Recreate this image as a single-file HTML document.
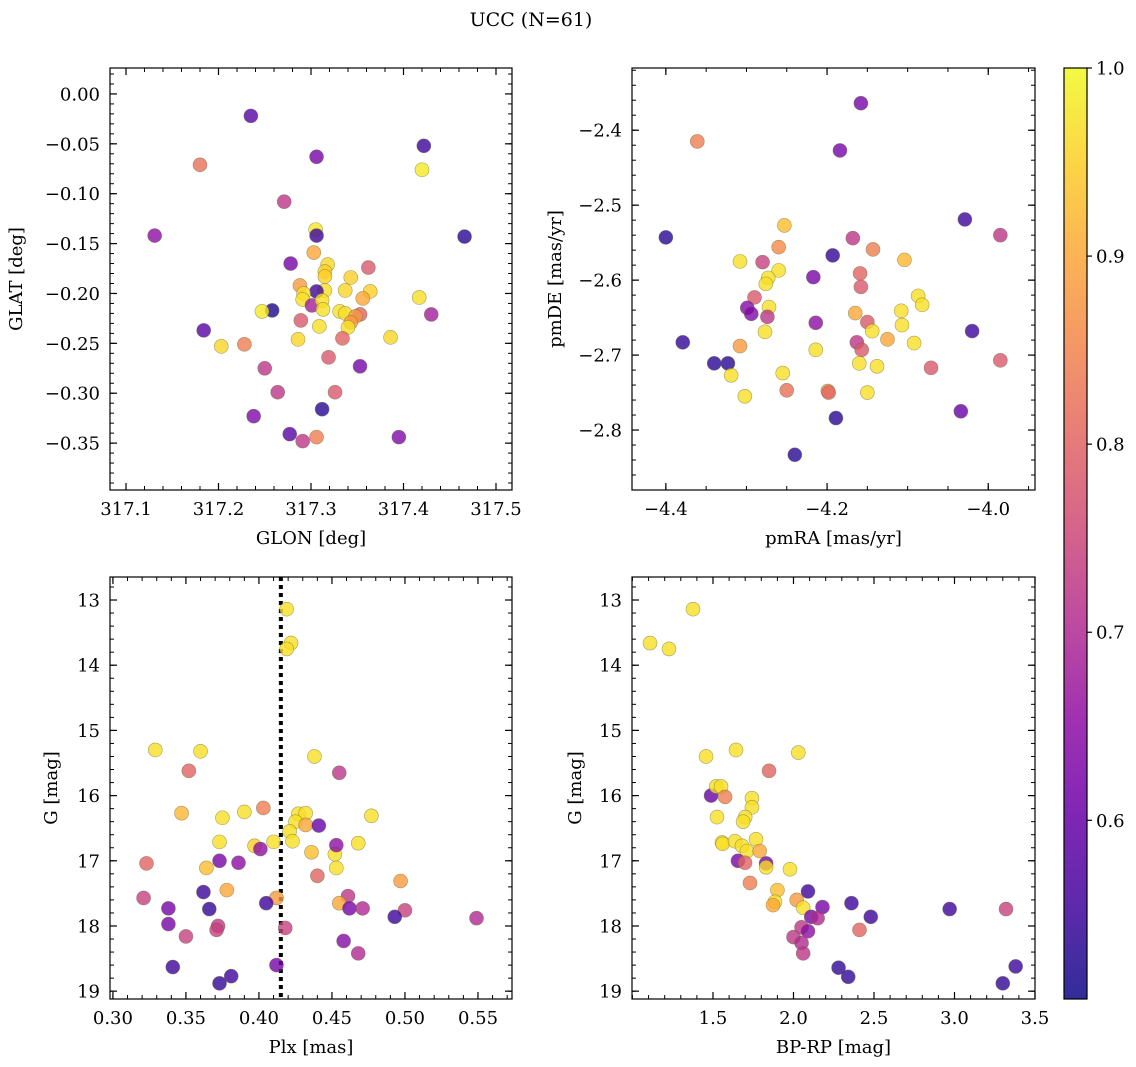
<!DOCTYPE html>
<html><head><meta charset="utf-8"><style>
body{margin:0;background:#fff}
svg{display:block;font-family:"DejaVu Serif","Liberation Serif",serif}
</style></head><body>
<svg id="fig" width="1136" height="1067" viewBox="0 0 1136 1067" xmlns="http://www.w3.org/2000/svg">
<text x="531" y="26" font-size="19" text-anchor="middle">UCC (N=61)</text>
<defs><linearGradient id="cb" x1="0" y1="1" x2="0" y2="0"></linearGradient></defs>
</svg>
<script>
// Panel 1: GLON vs GLAT
const glon=[317.235,317.180,317.306,317.422,317.420,317.271,317.131,317.466,317.305,317.306,317.303,317.318,317.278,317.362,317.315,317.315,317.343,317.288,317.315,317.306,317.364,317.337,317.292,317.291,317.356,317.417,317.301,317.312,317.313,317.331,317.337,317.353,317.348,317.430,317.258,317.247,317.289,317.343,317.309,317.340,317.184,317.228,317.203,317.386,317.286,317.334,317.319,317.250,317.353,317.264,317.326,317.312,317.238,317.277,317.306,317.291,317.395];
const glat=[-0.022,-0.071,-0.063,-0.052,-0.076,-0.108,-0.142,-0.143,-0.136,-0.142,-0.159,-0.171,-0.170,-0.174,-0.178,-0.183,-0.184,-0.192,-0.197,-0.198,-0.198,-0.197,-0.200,-0.206,-0.205,-0.204,-0.212,-0.207,-0.216,-0.218,-0.220,-0.221,-0.223,-0.221,-0.217,-0.218,-0.227,-0.229,-0.233,-0.234,-0.237,-0.251,-0.253,-0.244,-0.246,-0.245,-0.264,-0.275,-0.273,-0.299,-0.299,-0.316,-0.323,-0.341,-0.344,-0.348,-0.344];
const prob1=[0.58,0.82,0.62,0.55,0.98,0.72,0.65,0.53,0.98,0.55,0.90,0.96,0.62,0.78,0.95,0.95,0.95,0.88,0.97,0.55,0.95,0.96,0.97,0.97,0.90,0.97,0.68,0.97,0.97,0.97,0.97,0.80,0.88,0.68,0.52,0.98,0.78,0.88,0.97,0.97,0.58,0.84,0.96,0.96,0.96,0.80,0.78,0.72,0.62,0.72,0.78,0.53,0.63,0.58,0.84,0.72,0.63];
// Panel 2: pmRA vs pmDE
const pmra=[-4.158,-4.361,-4.184,-4.400,-4.029,-3.985,-4.253,-4.168,-4.143,-4.260,-4.193,-4.308,-4.280,-4.104,-4.159,-4.260,-4.273,-4.217,-4.276,-4.158,-4.290,-4.087,-4.272,-4.082,-4.299,-4.274,-4.294,-4.150,-4.165,-4.214,-4.108,-4.144,-4.277,-4.020,-4.107,-4.125,-4.163,-4.092,-4.379,-4.308,-4.214,-4.157,-4.160,-4.340,-4.323,-3.985,-4.138,-4.255,-4.071,-4.319,-4.250,-4.199,-4.198,-4.150,-4.302,-4.034,-4.189,-4.240];
const pmde=[-2.364,-2.415,-2.427,-2.543,-2.519,-2.540,-2.527,-2.544,-2.559,-2.556,-2.567,-2.575,-2.576,-2.573,-2.591,-2.587,-2.597,-2.596,-2.605,-2.609,-2.623,-2.621,-2.636,-2.633,-2.637,-2.649,-2.645,-2.656,-2.644,-2.657,-2.641,-2.668,-2.669,-2.668,-2.660,-2.679,-2.683,-2.684,-2.683,-2.688,-2.693,-2.693,-2.711,-2.711,-2.711,-2.707,-2.715,-2.724,-2.717,-2.727,-2.747,-2.748,-2.750,-2.750,-2.755,-2.775,-2.784,-2.833];
const prob2=[0.62,0.84,0.62,0.53,0.55,0.72,0.93,0.72,0.84,0.86,0.54,0.97,0.74,0.92,0.80,0.97,0.97,0.62,0.97,0.78,0.78,0.97,0.97,0.97,0.64,0.72,0.63,0.78,0.90,0.65,0.97,0.97,0.97,0.55,0.97,0.90,0.72,0.97,0.54,0.88,0.97,0.78,0.97,0.53,0.53,0.78,0.97,0.97,0.78,0.97,0.82,0.88,0.80,0.97,0.97,0.60,0.53,0.53];
// Panel 3: Plx vs G
const plx=[0.419,0.422,0.419,0.329,0.360,0.438,0.352,0.455,0.347,0.390,0.403,0.427,0.432,0.425,0.421,0.432,0.441,0.477,0.375,0.373,0.410,0.423,0.397,0.401,0.436,0.452,0.453,0.468,0.453,0.364,0.373,0.386,0.323,0.378,0.440,0.362,0.461,0.321,0.497,0.412,0.455,0.405,0.338,0.366,0.462,0.471,0.500,0.493,0.549,0.338,0.372,0.371,0.418,0.350,0.458,0.468,0.341,0.412,0.381,0.373];
const gmag3=[13.14,13.66,13.75,15.30,15.32,15.40,15.62,15.65,16.27,16.25,16.19,16.28,16.27,16.40,16.55,16.45,16.46,16.31,16.34,16.71,16.71,16.70,16.77,16.82,16.87,16.90,17.11,16.73,16.76,17.11,17.00,17.03,17.04,17.45,17.23,17.48,17.54,17.57,17.31,17.57,17.65,17.65,17.73,17.74,17.73,17.73,17.76,17.86,17.88,17.97,18.00,18.06,18.03,18.16,18.23,18.42,18.63,18.60,18.77,18.88];
const prob3=[0.97,0.97,0.97,0.97,0.97,0.97,0.80,0.72,0.92,0.97,0.84,0.97,0.97,0.97,0.97,0.90,0.60,0.97,0.97,0.97,0.97,0.97,0.95,0.65,0.93,0.97,0.97,0.97,0.65,0.93,0.62,0.65,0.80,0.90,0.80,0.55,0.72,0.74,0.88,0.88,0.90,0.55,0.62,0.54,0.62,0.70,0.74,0.55,0.70,0.62,0.72,0.74,0.74,0.74,0.64,0.70,0.55,0.62,0.55,0.54];
// Panel 4: BP-RP vs G
const bprp=[1.376,1.109,1.227,1.457,1.643,2.030,1.848,1.488,1.520,1.550,1.575,1.525,1.742,1.742,1.700,1.687,1.556,1.560,1.637,1.680,1.767,1.711,1.790,1.978,1.830,1.830,1.655,1.699,1.730,1.900,1.885,1.873,2.090,2.020,2.060,2.180,2.360,2.480,2.970,3.320,2.110,2.050,2.090,2.150,2.000,2.410,2.050,2.060,2.280,2.340,3.300,3.380];
const gmag4=[13.14,13.66,13.75,15.40,15.30,15.34,15.62,16.00,15.86,15.86,16.02,16.33,16.04,16.18,16.33,16.40,16.72,16.74,16.70,16.77,16.67,16.85,16.85,17.13,17.04,17.10,17.00,17.03,17.34,17.45,17.63,17.68,17.47,17.60,17.72,17.71,17.65,17.86,17.74,17.74,17.86,18.02,18.08,17.88,18.17,18.06,18.26,18.42,18.64,18.78,18.88,18.62];
const prob4=[0.97,0.97,0.97,0.97,0.97,0.97,0.80,0.60,0.97,0.97,0.84,0.97,0.97,0.97,0.97,0.97,0.97,0.97,0.97,0.97,0.97,0.97,0.90,0.97,0.62,0.97,0.62,0.80,0.84,0.93,0.97,0.90,0.55,0.88,0.97,0.62,0.55,0.55,0.55,0.74,0.62,0.72,0.65,0.70,0.72,0.80,0.70,0.72,0.54,0.54,0.54,0.55];
// Colorbar
const cbTicks=[0.6,0.7,0.8,0.9,1.0];
const vmin=0.505, vmax=1.0;

const NS="http://www.w3.org/2000/svg";
const svg=document.getElementById('fig');
function mk(tag,attrs,parent){const e=document.createElementNS(NS,tag);for(const k in attrs)e.setAttribute(k,attrs[k]);(parent||svg).appendChild(e);return e;}
const plasma=[[13,8,135],[65,4,157],[106,0,168],[143,13,164],[177,42,144],[204,71,120],[225,100,98],[242,132,75],[252,166,54],[252,206,37],[240,249,33]];
function cmap(v){let t=(v-vmin)/(vmax-vmin);t=Math.max(0,Math.min(1,t))*10;const i=Math.min(9,Math.floor(t)),f=t-i;const a=plasma[i],b=plasma[i+1];return 'rgb('+a.map((c,j)=>Math.round(c+(b[j]-c)*f)).join(',')+')';}
function fmt(v,d){const s=Math.abs(v).toFixed(d);return (v<-1e-9?'\u2212':'')+s;}
const FS=18;
const panels=[
 {name:'position',box:[110,68,512,490],xd:[317.0827,317.5173],yd:[0.026,-0.397],xt:[317.1,317.2,317.3,317.4,317.5],xdec:1,xm:0.02,yt:[0,-0.05,-0.1,-0.15,-0.2,-0.25,-0.3,-0.35],ydec:2,ym:0.01,xl:'GLON [deg]',yl:'GLAT [deg]',ylx:22,X:glon,Y:glat,P:prob1},
 {name:'proper-motion',box:[632,68,1035,490],xd:[-4.442,-3.942],yd:[-2.317,-2.88],xt:[-4.4,-4.2,-4.0],xdec:1,xm:0.05,yt:[-2.4,-2.5,-2.6,-2.7,-2.8],ydec:1,ym:0.02,xl:'pmRA [mas/yr]',yl:'pmDE [mas/yr]',ylx:561,X:pmra,Y:pmde,P:prob2},
 {name:'parallax-magnitude',box:[110,577,512,999],xd:[0.298,0.5733],yd:[12.647,19.12],xt:[0.30,0.35,0.40,0.45,0.50,0.55],xdec:2,xm:0.01,yt:[13,14,15,16,17,18,19],ydec:0,ym:0.2,xl:'Plx [mas]',yl:'G [mag]',ylx:57,X:plx,Y:gmag3,P:prob3,vline:0.415},
 {name:'color-magnitude',box:[632,577,1035,999],xd:[0.997,3.5],yd:[12.647,19.12],xt:[1.5,2.0,2.5,3.0,3.5],xdec:1,xm:0.1,yt:[13,14,15,16,17,18,19],ydec:0,ym:0.2,xl:'BP-RP [mag]',yl:'G [mag]',ylx:581,X:bprp,Y:gmag4,P:prob4}
];
panels.forEach(p=>{
 const [x0,y0,x1,y1]=p.box;
 const sx=v=>x0+(v-p.xd[0])/(p.xd[1]-p.xd[0])*(x1-x0);
 const sy=v=>y0+(v-p.yd[0])/(p.yd[1]-p.yd[0])*(y1-y0);
 const g=mk('g',{});
 
 
 const cp='clip-'+p.name;
 const c=mk('clipPath',{id:cp},g);mk('rect',{x:x0,y:y0,width:x1-x0,height:y1-y0},c);
 const pts=mk('g',{'clip-path':'url(#'+cp+')'},g);
 if(p.vline!==undefined){
  const l=mk('line',{x1:sx(p.vline),x2:sx(p.vline),y1:y0,y2:y1,stroke:'#000','stroke-width':4,'stroke-dasharray':'4,4'},pts);
  
  
 }
 const n=Math.min(p.X.length,p.Y.length,p.P.length);
 for(let i=0;i<n;i++){
  const ci=mk('circle',{cx:sx(p.X[i]),cy:sy(p.Y[i]),r:7,fill:cmap(p.P[i]),'fill-opacity':0.8,stroke:'#6b6b3a','stroke-opacity':0.6,'stroke-width':0.6},pts);
  
  
 }
 mk('rect',{x:x0,y:y0,width:x1-x0,height:y1-y0,fill:'none',stroke:'#000','stroke-width':1.2},g);
 const xmin=Math.min(...p.xd),xmax=Math.max(...p.xd);
 for(let k=Math.ceil(xmin/p.xm-1e-6);k*p.xm<=xmax+1e-9;k++){const X=sx(k*p.xm);
  mk('line',{x1:X,x2:X,y1:y1,y2:y1-4,stroke:'#000','stroke-width':1},g);mk('line',{x1:X,x2:X,y1:y0,y2:y0+4,stroke:'#000','stroke-width':1},g);}
 const ymn=Math.min(...p.yd),ymx=Math.max(...p.yd);
 for(let k=Math.ceil(ymn/p.ym-1e-6);k*p.ym<=ymx+1e-9;k++){const Y=sy(k*p.ym);
  mk('line',{x1:x0,x2:x0+4,y1:Y,y2:Y,stroke:'#000','stroke-width':1},g);mk('line',{x1:x1,x2:x1-4,y1:Y,y2:Y,stroke:'#000','stroke-width':1},g);}
 p.xt.forEach(v=>{const X=sx(v);
  mk('line',{x1:X,x2:X,y1:y1,y2:y1-7,stroke:'#000','stroke-width':1.2},g);mk('line',{x1:X,x2:X,y1:y0,y2:y0+7,stroke:'#000','stroke-width':1.2},g);
  const t=mk('text',{x:X,y:y1+25,'font-size':FS,'text-anchor':'middle'},g);t.textContent=fmt(v,p.xdec);
  
  });
 p.yt.forEach(v=>{const Y=sy(v);
  mk('line',{x1:x0,x2:x0+7,y1:Y,y2:Y,stroke:'#000','stroke-width':1.2},g);mk('line',{x1:x1,x2:x1-7,y1:Y,y2:Y,stroke:'#000','stroke-width':1.2},g);
  const t=mk('text',{x:x0-10,y:Y+6.5,'font-size':FS,'text-anchor':'end'},g);t.textContent=fmt(v,p.ydec);
  
  });
 const xl=mk('text',{x:(x0+x1)/2,y:y1+54,'font-size':FS,'text-anchor':'middle'},g);xl.textContent=p.xl;
 
 
 const yl=mk('text',{x:0,y:0,'font-size':FS,'text-anchor':'middle',transform:'translate('+p.ylx+','+((y0+y1)/2)+') rotate(-90)'},g);yl.textContent=p.yl;
 
 
});
const grad=document.getElementById('cb');
for(let i=0;i<=10;i++){mk('stop',{offset:(i*10)+'%','stop-color':cmap(vmin+(vmax-vmin)*i/10),'stop-opacity':0.85},grad);}
const cbx0=1064,cbx1=1087,cby0=68,cby1=999;
const cbg=mk('g',{});


mk('rect',{x:cbx0,y:cby0,width:cbx1-cbx0,height:cby1-cby0,fill:'url(#cb)',stroke:'#000','stroke-width':1.2},cbg);
cbTicks.forEach(v=>{const Y=cby1-(v-vmin)/(vmax-vmin)*(cby1-cby0);
 mk('line',{x1:cbx1,x2:cbx1+5,y1:Y,y2:Y,stroke:'#000','stroke-width':1.2},cbg);
 const t=mk('text',{x:cbx1+9,y:Y+6.5,'font-size':FS},cbg);t.textContent=v.toFixed(1);
 
 });
</script>
</body></html>
